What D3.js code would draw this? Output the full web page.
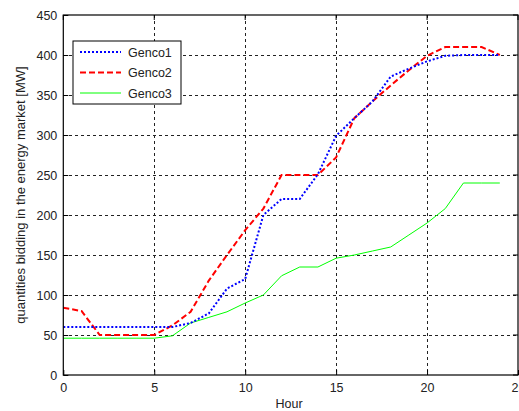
<!DOCTYPE html>
<html><head><meta charset="utf-8">
<script src="https://cdn.jsdelivr.net/npm/d3@7"></script>
<style>body{margin:0;background:#fff}svg{display:block}</style>
</head><body>
<svg id="c" width="519" height="411"></svg>
<script>
const hours = d3.range(0, 25);
const genco1 = [60,60,60,60,60,60,60,65,77,108,120,200,220,220,251,299,321,342,373,383,392,399,400,400,400];
const genco2 = [84,80,50,50,50,50,62,79,118,150,181,208,250,250,250,272,321,342,362,381,399,410,410,410,400];
const genco3 = [46,46,46,46,46,46,49,65,72,79,90,100,124,135,135,146,150,155,160,175,190,208,240,240,240];
const xTicks = [0,5,10,15,20,25];
const yTicks = [0,50,100,150,200,250,300,350,400,450];
const seriesNames = ["Genco1","Genco2","Genco3"];

const svg = d3.select("#c");
const m = {l:63.3, r:518, t:15, b:375};
const x = d3.scaleLinear().domain([0,25]).range([m.l, m.r]);
const y = d3.scaleLinear().domain([0,450]).range([m.b, m.t]);
const font = "Liberation Sans, Arial, sans-serif";

// grid
const g = svg.append("g");
g.selectAll(".gx").data(xTicks.slice(1,-1)).enter().append("line")
  .attr("x1", d=>x(d)).attr("x2", d=>x(d)).attr("y1", m.t).attr("y2", m.b)
  .attr("stroke","#222").attr("stroke-width",1).attr("stroke-dasharray","3,3").attr("shape-rendering","crispEdges");
g.selectAll(".gy").data(yTicks.slice(1,-1)).enter().append("line")
  .attr("x1", m.l).attr("x2", m.r).attr("y1", d=>y(d)).attr("y2", d=>y(d))
  .attr("stroke","#222").attr("stroke-width",1).attr("stroke-dasharray","3,3").attr("shape-rendering","crispEdges");

// lines
const line = d3.line().x((d,i)=>x(hours[i])).y(d=>y(d));
svg.append("path").datum(genco3).attr("d", line).attr("fill","none").attr("stroke","#00ff00").attr("stroke-width",1);
svg.append("path").datum(genco2).attr("d", line).attr("fill","none").attr("stroke","#ff0000").attr("stroke-width",2).attr("stroke-dasharray","6,3");
svg.append("path").datum(genco1).attr("d", line).attr("fill","none").attr("stroke","#0000ff").attr("stroke-width",2).attr("stroke-dasharray","2,2");

// axes
const xAxis = d3.axisBottom(x).tickValues(xTicks).tickSizeInner(-5).tickSizeOuter(0).tickPadding(8);
const yAxis = d3.axisLeft(y).tickValues(yTicks).tickSizeInner(-5).tickSizeOuter(0).tickPadding(6);
const gx = svg.append("g").attr("transform",`translate(0,${m.b})`).call(xAxis);
const gy = svg.append("g").attr("transform",`translate(${m.l},0)`).call(yAxis);
[gx,gy].forEach(a=>{
  a.selectAll("text").attr("font-family",font).attr("font-size",12.5).attr("fill","#222");
  a.selectAll("line").attr("stroke","#000");
  a.select(".domain").remove();
});
// top/right ticks
svg.append("g").selectAll("line").data(xTicks).enter().append("line")
  .attr("x1",d=>x(d)).attr("x2",d=>x(d)).attr("y1",m.t).attr("y2",m.t+5).attr("stroke","#000");
svg.append("g").selectAll("line").data(yTicks).enter().append("line")
  .attr("x1",m.r-5).attr("x2",m.r).attr("y1",d=>y(d)).attr("y2",d=>y(d)).attr("stroke","#000");
// box
svg.append("rect").attr("x",m.l).attr("y",m.t).attr("width",m.r-m.l).attr("height",m.b-m.t)
  .attr("fill","none").attr("stroke","#000").attr("stroke-width",1.2);

// labels
svg.append("text").attr("x", 289).attr("y", 408).attr("text-anchor","middle")
  .attr("font-family",font).attr("font-size",12.5).attr("fill","#222").text("Hour");
svg.append("text").attr("transform",`translate(25,${(m.t+m.b)/2}) rotate(-90)`).attr("text-anchor","middle")
  .attr("font-family",font).attr("font-size",13).attr("fill","#222").text("quantities bidding in the energy market [MW]");

// legend
const lg = svg.append("g");
lg.append("rect").attr("x",73).attr("y",41).attr("width",108).attr("height",63).attr("fill","#fff").attr("stroke","#000").attr("stroke-width",1);
const styles = [{c:"#0000ff",w:2,da:"2,2"},{c:"#ff0000",w:2,da:"6,3"},{c:"#00ff00",w:1,da:null}];
seriesNames.forEach((n,i)=>{
  const yy = 52 + i*20.5;
  const l = lg.append("line").attr("x1",80).attr("x2",121).attr("y1",yy).attr("y2",yy)
    .attr("stroke",styles[i].c).attr("stroke-width",styles[i].w);
  if(styles[i].da) l.attr("stroke-dasharray",styles[i].da);
  lg.append("text").attr("x",128).attr("y",yy+4.5).attr("font-family",font).attr("font-size",12.5).attr("fill","#222").text(n);
});
</script>
</body></html>
